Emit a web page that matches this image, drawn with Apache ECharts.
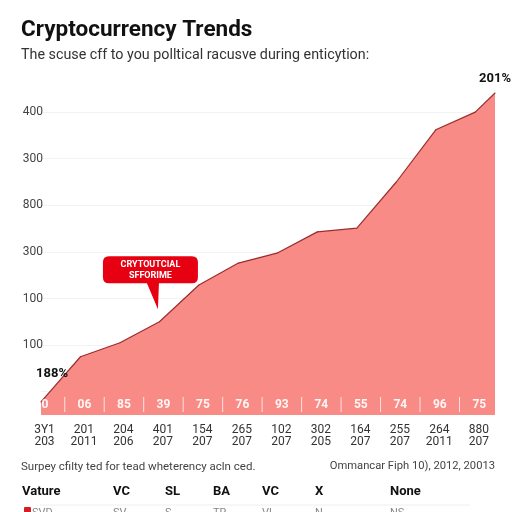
<!DOCTYPE html>
<html><head><meta charset="utf-8">
<script src="https://cdn.jsdelivr.net/npm/echarts@6/dist/echarts.min.js"></script>
<style>html,body{margin:0;padding:0;background:#fff}#c{width:512px;height:512px}</style>
</head><body><div id="c"></div>
<script>
// ---- data ----
const categories = ['3Y1\n203','201\n2011','204\n206','401\n207','154\n207','265\n207','102\n207','302\n205','164\n207','255\n207','264\n2011','880\n207'];
const stripLabels = ['0','06','85','39','75','76','93','74','55','74','96','75'];
const xPositions = [0,1,2,3,4,5,6,7,8,9,10,11,11.5];
const trendValues = [0.28,1.25,1.55,2.0,2.79,3.26,3.48,3.93,4.01,5.0,6.12,6.5,6.91];
const yTickLabels = ['100','100','300','800','300','400'];
const startLabel = '188%';
const endLabel = '201%';
const calloutText = 'CRYTOUTCIAL\nSFFORIME';
const calloutIndex = 3;
const tableHeaders = ['Vature','VC','SL','BA','VC','X','None'];
const tableRow = ['SVD','SV','S','TR','VL','N','NS'];
const titleText = 'Cryptocurrency Trends';
const subtitleText = 'The scuse cff to you polltical racusve during enticytion:';
const noteLeft = 'Surpey cfilty ted for tead wheterency acln ced.';
const noteRight = 'Ommancar Fiph 10), 2012, 20013';

// ---- chart ----
const FONT = 'Roboto, Arial, sans-serif';
const chart = echarts.init(document.getElementById('c'), null, {renderer:'canvas'});
const headerX = [22,113,165,213,262,315,390];

const lineData = xPositions.map((x,i)=>{
  const d = {value:[x, trendValues[i]]};
  if (i === 0) d.label = {show:true, formatter:startLabel, offset:[11,-16]};
  if (i === xPositions.length-1) d.label = {show:true, formatter:endLabel, offset:[0,-2]};
  return d;
});

const graphics = [];
tableHeaders.forEach((t,i)=>{
  graphics.push({type:'text', left:headerX[i], top:485, style:{text:t, font:'bold 13px '+FONT, fill:'#111'}});
  graphics.push({type:'text', left:headerX[i]+ (i===0?10:0), top:508, style:{text:tableRow[i], font:'11px '+FONT, fill:'#888'}});
});
graphics.push({type:'rect', left:24, top:507, shape:{width:7,height:7,r:1}, style:{fill:'#d81b25'}});
graphics.push({type:'line', shape:{x1:40,y1:505,x2:470,y2:505}, style:{stroke:'#eee', lineWidth:1}});

chart.setOption({
  animation:false,
  backgroundColor:'#fff',
  title:[
    {text:titleText, left:21, top:19, padding:0, textStyle:{fontFamily:FONT, fontSize:22.5, fontWeight:'bold', color:'#111'}},
    {text:subtitleText, left:21, top:48, padding:0, textStyle:{fontFamily:FONT, fontSize:14.3, fontWeight:'normal', color:'#333'}},
    {text:noteLeft, left:21, top:461, padding:0, textStyle:{fontFamily:FONT, fontSize:11.5, fontWeight:'normal', color:'#444'}},
    {text:noteRight, right:17, top:461, padding:0, textStyle:{fontFamily:FONT, fontSize:11.2, fontWeight:'normal', color:'#444'}}
  ],
  graphic:graphics,
  grid:{left:41, right:17, top:88.8, bottom:97, containLabel:false},
  xAxis:{
    type:'value', min:0, max:11.5, interval:1,
    axisLine:{show:false}, axisTick:{show:false}, splitLine:{show:false},
    axisLabel:{
      showMaxLabel:false, color:'#333', fontFamily:FONT, fontSize:12, lineHeight:12, margin:9,
      padding:[0,0,0,7],
      formatter:v=> (Number.isInteger(v) && v < categories.length) ? categories[v] : ''
    }
  },
  yAxis:{
    type:'value', min:0, max:7, interval:0.5,
    axisLine:{show:false}, axisTick:{show:false},
    splitLine:{show:true, lineStyle:{color:['rgba(0,0,0,0)','#f2f2f2'], width:1}},
    axisLabel:{
      color:'#444', fontFamily:FONT, fontSize:12, margin:-2,
      formatter:v=>{ const k = v - 1.5; return (Number.isInteger(k) && k>=0 && k<yTickLabels.length) ? yTickLabels[k] : ''; }
    }
  },
  series:[
    {
      type:'line', data:lineData, z:2,
      symbol:'circle', symbolSize:1, showSymbol:true,
      itemStyle:{color:'#9a2e2e'},
      lineStyle:{color:'#9a2e2e', width:1.2},
      areaStyle:{color:'#f98b86', opacity:1},
      label:{show:false, position:'top', fontFamily:FONT, fontSize:13, fontWeight:'bold', color:'#111'},
      markPoint:{
        silent:true,
        data:[{coord:[xPositions[calloutIndex], trendValues[calloutIndex]]}],
        symbol:'path://M6,0 H89 Q95,0 95,6 V21 Q95,27 89,27 H56 L55,53 L44,27 H6 Q0,27 0,21 V6 Q0,0 6,0 Z',
        symbolSize:[95,53], symbolKeepAspect:false, symbolOffset:[-9,-39],
        itemStyle:{color:'#e60012'},
        label:{show:true, position:'inside', formatter:calloutText, color:'#fff', fontFamily:FONT, fontSize:9, fontWeight:'bold', lineHeight:11, offset:[0,-13]}
      }
    },
    {
      type:'custom', z:3, silent:true,
      data: stripLabels.map((s,i)=>[i,0]),
      encode:{x:0, y:1},
      renderItem:(params, api)=>{
        const i = api.value(0);
        const p = api.coord([i, 0]);
        const children = [{type:'text', style:{text:stripLabels[i], x:p[0]+4, y:p[1]-10, fill:'rgba(255,255,255,0.92)', font:'bold 12px '+FONT, align:'center', verticalAlign:'middle'}}];
        if (i < stripLabels.length-1) {
          const q = api.coord([i+0.5, 0]);
          children.push({type:'line', shape:{x1:q[0]+4, y1:p[1]-18, x2:q[0]+4, y2:p[1]-3}, style:{stroke:'rgba(255,255,255,0.75)', lineWidth:1}});
        }
        return {type:'group', children};
      }
    }
  ]
});
</script></body></html>
